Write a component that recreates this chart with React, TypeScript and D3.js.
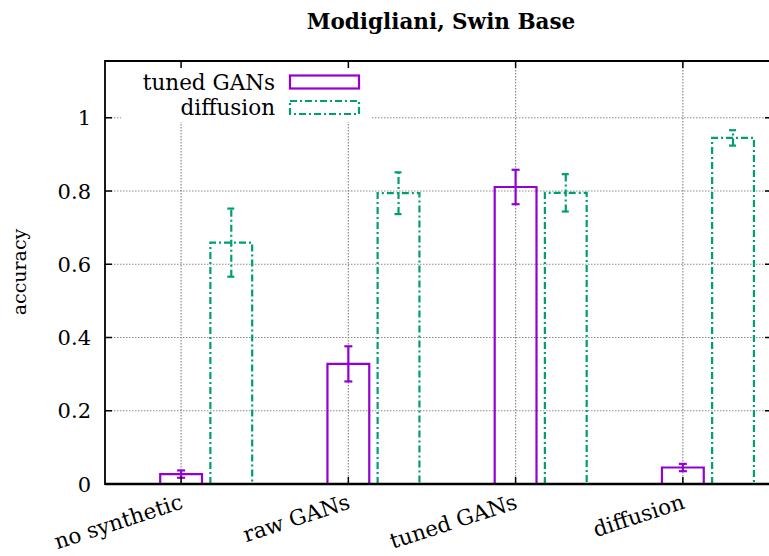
import React from "react";
import * as d3 from "d3";

// Categories along the x axis
const categories = ["no synthetic", "raw GANs", "tuned GANs", "diffusion"];

// Series: mean accuracy and error half-width
const tunedGans = [0.027, 0.328, 0.811, 0.045];
const tunedGansErr = [0.01, 0.048, 0.047, 0.01];
const diffusion = [0.659, 0.794, 0.795, 0.945];
const diffusionErr = [0.093, 0.057, 0.051, 0.021];

const seriesNames = ["tuned GANs", "diffusion"];
const yTicks = [0, 0.2, 0.4, 0.6, 0.8, 1];

const W = 769;
const H = 556;
const left = 105;
const right = 772;
const top = 61;
const bottom = 484;

const PURPLE = "#9400d3";
const GREEN = "#009e73";
const GREEN_DASH = "7,3,2,3";
const FONT = "'DejaVu Serif', serif";

export default function App() {
  const x = d3.scaleLinear().domain([-0.455, 3.533]).range([left, right]);
  const y = d3.scaleLinear().domain([0, 1.155]).range([bottom, top]);
  const barW = x(0.25) - x(0);
  const offset = 0.3;

  const series = [
    { name: seriesNames[0], values: tunedGans, err: tunedGansErr, color: PURPLE, dash: undefined as string | undefined, shift: 0 },
    { name: seriesNames[1], values: diffusion, err: diffusionErr, color: GREEN, dash: GREEN_DASH, shift: offset },
  ];

  const grid = "#8a8a8a";
  const gridDash = "1.5,1.5";

  return (
    <svg width={W} height={H} style={{ display: "block", position: "absolute", left: 0, top: 0, background: "#fff" }}>
      <rect x={0} y={0} width={W} height={H} fill="#fff" />
      {/* grid */}
      {yTicks.filter((t) => t > 0).map((t) => (
        <line key={"gy" + t} x1={left} x2={right} y1={y(t)} y2={y(t)} stroke={grid} strokeWidth={1.2} strokeDasharray={gridDash} />
      ))}
      {categories.map((c, i) => (
        <line key={"gx" + c} x1={x(i)} x2={x(i)} y1={top} y2={bottom} stroke={grid} strokeWidth={1.2} strokeDasharray={gridDash} />
      ))}
      {/* opaque key background */}
      <rect x={121} y={top + 1} width={251} height={60} fill="#fff" />

      {/* bars with error bars */}
      {series.map((s) =>
        s.values.map((v, i) => {
          const cx = x(i + s.shift);
          const e = s.err[i];
          const capW = 4;
          return (
            <g key={s.name + i} fill="none" stroke={s.color} strokeWidth={2.2} strokeDasharray={s.dash}>
              <path d={`M${cx - barW / 2},${y(0)}V${y(v)}H${cx + barW / 2}V${y(0)}`} />
              <line x1={cx} x2={cx} y1={y(v - e)} y2={y(v + e)} />
              <line x1={cx - capW} x2={cx + capW} y1={y(v + e)} y2={y(v + e)} strokeDasharray={undefined} />
              <line x1={cx - capW} x2={cx + capW} y1={y(v - e)} y2={y(v - e)} strokeDasharray={undefined} />
            </g>
          );
        })
      )}

      {/* border */}
      <path d={`M${left},${bottom}V${top}H${right}V${bottom}Z`} fill="none" stroke="#000" strokeWidth={1.8} />
      <line x1={left} x2={right} y1={bottom} y2={bottom} stroke="#000" strokeWidth={2.6} />

      {/* y ticks */}
      {yTicks.map((t) => (
        <g key={"yt" + t}>
          <line x1={left} x2={left + 7} y1={y(t)} y2={y(t)} stroke="#000" strokeWidth={1.5} />
          <line x1={right - 7} x2={right} y1={y(t)} y2={y(t)} stroke="#000" strokeWidth={1.5} />
          <text x={91} y={y(t)} dy="0.36em" textAnchor="end" fontFamily={FONT} fontSize={21} fill="#000">
            {d3.format("~g")(t)}
          </text>
        </g>
      ))}

      {/* x ticks */}
      {categories.map((c, i) => (
        <g key={"xt" + c}>
          <line x1={x(i)} x2={x(i)} y1={bottom} y2={bottom - 7} stroke="#000" strokeWidth={1.5} />
          <line x1={x(i)} x2={x(i)} y1={top} y2={top + 7} stroke="#000" strokeWidth={1.5} />
          <text
            transform={`translate(${x(i) + 3},${bottom + 24}) rotate(-18)`}
            textAnchor="end"
            fontFamily={FONT}
            fontSize={21.5}
            fill="#000"
          >
            {c}
          </text>
        </g>
      ))}

      {/* title and axis label */}
      <text x={441} y={29} textAnchor="middle" fontFamily={FONT} fontWeight="bold" fontSize={21.5} fill="#000">
        Modigliani, Swin Base
      </text>
      <text transform={`translate(26,272) rotate(-90)`} textAnchor="middle" fontFamily={FONT} fontSize={19} fill="#000">
        accuracy
      </text>

      {/* key */}
      {series.map((s, k) => {
        const ky = 82 + k * 25.5;
        return (
          <g key={"key" + s.name}>
            <text x={275} y={ky} dy="0.36em" textAnchor="end" fontFamily={FONT} fontSize={21.5} fill="#000">
              {s.name}
            </text>
            <rect x={290} y={ky - 6.5} width={69} height={13} fill="none" stroke={s.color} strokeWidth={2.2} strokeDasharray={s.dash} />
          </g>
        );
      })}
    </svg>
  );
}
